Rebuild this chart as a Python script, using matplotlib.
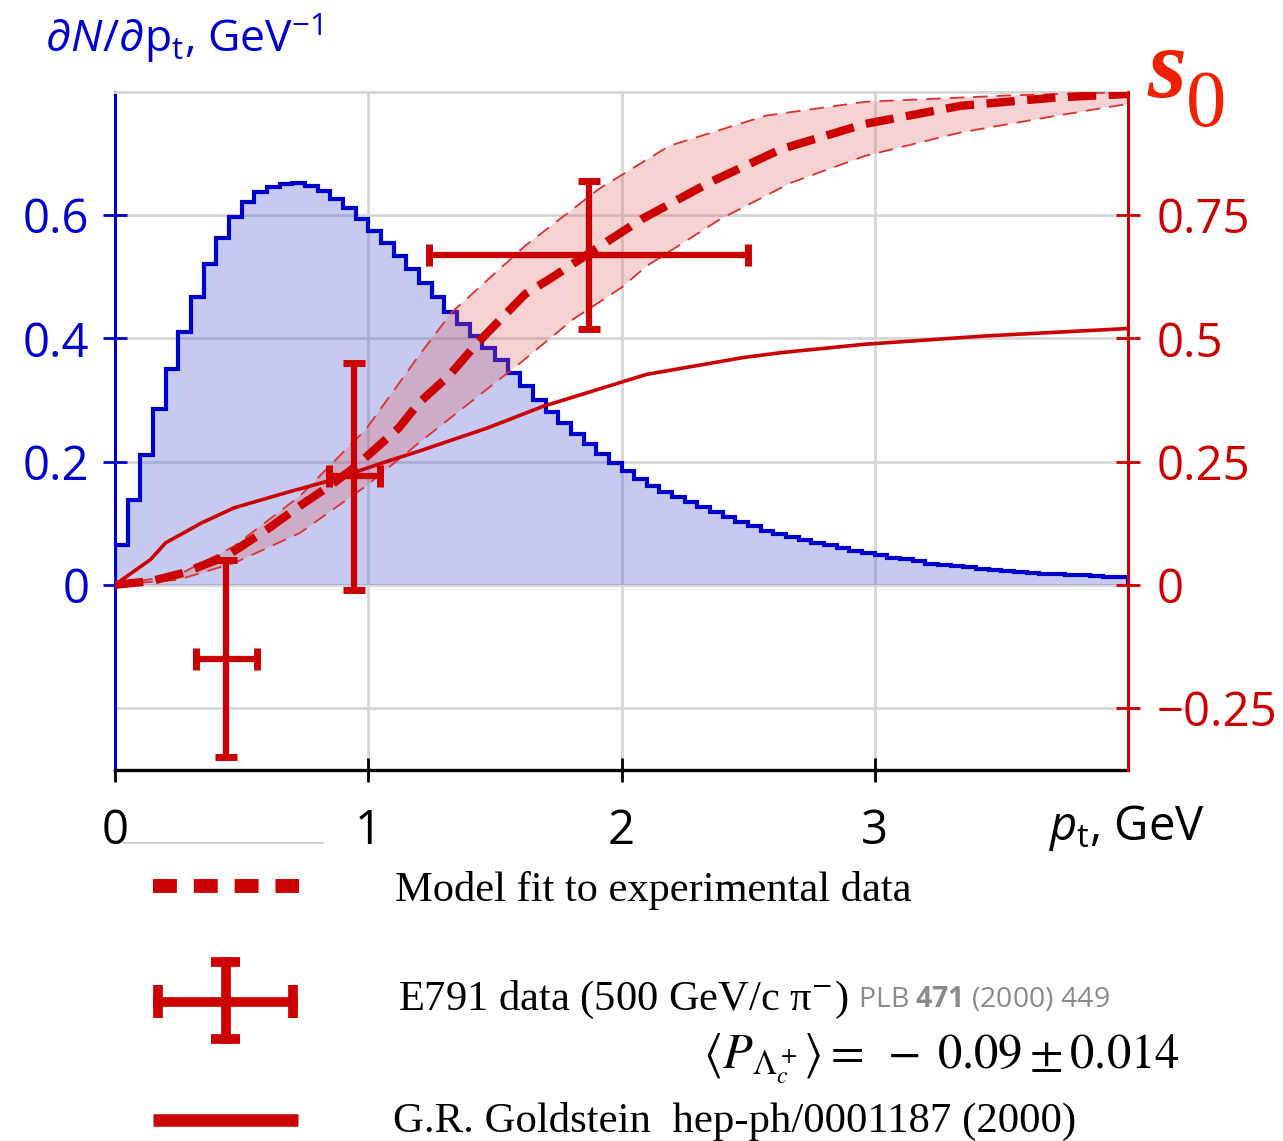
import numpy as np
import matplotlib
matplotlib.use("Agg")
import matplotlib.pyplot as plt

# ---------------- data ----------------
# pt distribution (left axis), 0.05 GeV bins from 0 to 4 GeV
hist_edges = np.linspace(0.0, 4.0, 81)
hist_values = [0.065, 0.138, 0.21, 0.285, 0.35, 0.41, 0.467, 0.52, 0.563, 0.597,
               0.622, 0.637, 0.646, 0.651, 0.653, 0.648, 0.64, 0.627, 0.611, 0.593,
               0.574, 0.555, 0.534, 0.513, 0.49, 0.467, 0.443, 0.423, 0.404, 0.385,
               0.365, 0.344, 0.323, 0.300, 0.280, 0.262, 0.244, 0.228, 0.212, 0.197,
               0.185, 0.172, 0.161, 0.151, 0.142, 0.134, 0.126, 0.118, 0.110, 0.102,
               0.095, 0.088, 0.082, 0.077, 0.072, 0.068, 0.064, 0.059, 0.055, 0.051,
               0.048, 0.044, 0.041, 0.038, 0.034, 0.032, 0.030, 0.028, 0.026, 0.024,
               0.022, 0.021, 0.019, 0.018, 0.017, 0.016, 0.015, 0.014, 0.013, 0.0125]

# model fit (right axis, s0)
fit_pt = [0, 0.14, 0.27, 0.44, 0.60, 0.73, 0.86, 0.95, 1.12, 1.20, 1.32, 1.43, 1.62,
          1.73, 1.87, 2.08, 2.35, 2.63, 2.96, 3.34, 3.72, 4.0]
fit_s0 = [0, 0.007, 0.024, 0.058, 0.112, 0.160, 0.205, 0.24, 0.318, 0.369, 0.425, 0.49,
          0.59, 0.625, 0.672, 0.742, 0.817, 0.884, 0.935, 0.972, 0.989, 0.996]

band_up_pt = [0, 0.25, 0.47, 0.73, 0.99, 1.20, 1.33, 1.62, 1.91, 2.19, 2.57, 2.96, 3.53, 4.0]
band_up_s0 = [0, 0.02, 0.078, 0.18, 0.315, 0.465, 0.553, 0.688, 0.803, 0.891, 0.952, 0.98, 0.993, 1.0]
band_lo_pt = [0, 0.25, 0.47, 0.73, 0.99, 1.20, 1.60, 1.81, 2.0, 2.10, 2.39, 2.67, 2.96, 3.34, 3.72, 4.0]
band_lo_s0 = [0, 0.01, 0.044, 0.105, 0.2, 0.288, 0.45, 0.539, 0.603, 0.647, 0.742, 0.816, 0.87, 0.918, 0.952, 0.976]

# G.R. Goldstein prediction
gold_pt = [0, 0.14, 0.20, 0.27, 0.34, 0.47, 0.67, 0.86, 1.06, 1.20, 1.47, 1.69, 2.10,
           2.48, 2.63, 2.96, 3.44, 4.0]
gold_s0 = [0, 0.051, 0.085, 0.105, 0.125, 0.156, 0.186, 0.213, 0.248, 0.271, 0.318,
           0.362, 0.427, 0.461, 0.471, 0.488, 0.505, 0.52]

# E791 data
e791_pt = [0.44, 0.945, 1.87]
e791_pt_err = [0.12, 0.10, 0.63]
e791_s0 = [-0.15, 0.22, 0.67]
e791_s0_err = [0.20, 0.23, 0.15]

left_ticks = [0, 0.2, 0.4, 0.6]
left_labels = ["0", "0.2", "0.4", "0.6"]
right_ticks = [-0.25, 0, 0.25, 0.5, 0.75]
right_labels = ["\u22120.25", "0", "0.25", "0.5", "0.75"]
x_ticks = [0, 1, 2, 3]
x_labels = ["0", "1", "2", "3"]

# ---------------- style ----------------
BLUE = "#0000cc"
RED = "#cc0000"
GRID = "#d6d6d6"

plt.rcParams["font.family"] = ["Open Sans", "DejaVu Sans"]
plt.rcParams["mathtext.fontset"] = "custom"
plt.rcParams["mathtext.rm"] = "Open Sans"
plt.rcParams["mathtext.it"] = "Open Sans:italic"
plt.rcParams["mathtext.bf"] = "Open Sans:bold"

W, H = 1283, 1141
fig = plt.figure(figsize=(W / 100, H / 100), dpi=100)
ax = fig.add_axes([115 / W, 1 - 769.5 / H, (1128 - 115) / W, (769.5 - 92) / H])

ax.set_xlim(0, 4)
ax.set_ylim(-0.3, 0.8)

# grid
ax.set_axisbelow(True)
ax.grid(True, color=GRID, lw=2)
ax.axhline(-0.2, color=GRID, lw=2, zorder=0.5)

# histogram
ax.stairs(hist_values, hist_edges, fill=True, color="#3344cc", alpha=0.28, lw=0, zorder=2)
ax.stairs(hist_values, hist_edges, baseline=0, color=BLUE, lw=3.0, zorder=3)

ax.set_xticks(x_ticks)
ax.set_xticklabels(x_labels)
ax.set_yticks(left_ticks)
ax.set_yticklabels(left_labels)
ax.tick_params(axis="y", direction="inout", length=17, width=2, colors=BLUE,
               labelsize=34, pad=10)
ax.tick_params(axis="x", direction="inout", length=17, width=2, colors="black",
               labelsize=34, pad=19)

ax.spines["left"].set_color(BLUE)
ax.spines["left"].set_linewidth(2.2)
ax.spines["bottom"].set_color("black")
ax.spines["bottom"].set_linewidth(2.4)
ax.spines["top"].set_color(GRID)
ax.spines["top"].set_linewidth(2)
ax.spines["right"].set_visible(False)

# right axis
ax2 = ax.twinx()
ax2.set_ylim(-0.375, 1.0)
for s in ("left", "top", "bottom"):
    ax2.spines[s].set_visible(False)
ax2.spines["right"].set_color(RED)
ax2.spines["right"].set_linewidth(2.2)
ax2.set_yticks(right_ticks)
ax2.set_yticklabels(right_labels)
ax2.tick_params(axis="y", direction="inout", length=17, width=2, colors=RED,
                labelsize=34, pad=12)

# band
band_x = np.concatenate([band_up_pt, band_lo_pt[::-1]])
band_y = np.concatenate([band_up_s0, band_lo_s0[::-1]])
ax2.fill(band_x, band_y, color="#e06060", alpha=0.28, lw=0, zorder=2)
ax2.plot(band_up_pt, band_up_s0, color="#dd3030", lw=1.3, dashes=(8, 5), zorder=3)
ax2.plot(band_lo_pt, band_lo_s0, color="#dd3030", lw=1.3, dashes=(8, 5), zorder=3)
ax2.plot(fit_pt, fit_s0, color=RED, lw=6, dashes=(3.4, 1.5), zorder=4)
ax2.plot(gold_pt, gold_s0, color=RED, lw=2.6, zorder=4)
ax2.errorbar(e791_pt, e791_s0, xerr=e791_pt_err, yerr=e791_s0_err, fmt="none",
             ecolor=RED, elinewidth=4.5, capsize=8, capthick=5, zorder=5)

# ---------------- overlay (texts & legend) ----------------
ov = fig.add_axes([0, 0, 1, 1], zorder=-1)
ov.set_xlim(0, W)
ov.set_ylim(H, 0)
ov.axis("off")
ov.patch.set_alpha(0)

ov.text(45, 53, r"$\partial N/\partial \mathrm{p}_{\mathrm{t}}$, GeV$^{-1}$", color=BLUE,
        fontsize=32, va="baseline", ha="left")
ov.text(1048, 840, r"$p_{\mathrm{t}}$, GeV", color="black", fontsize=34,
        va="baseline", ha="left")
ov.text(1148, 97, "s", color="#ee2200", fontsize=72, fontstyle="italic",
        fontweight="bold", family=["Liberation Serif", "DejaVu Serif"],
        va="baseline", ha="left")
ov.text(1186, 126, "0", color="#ee2200", fontsize=58,
        family=["Liberation Serif", "DejaVu Serif"], va="baseline", ha="left")

ov.plot([123, 323], [842.5, 842.5], color="#c8c8c8", lw=1.2)

serif = ["Liberation Serif", "DejaVu Serif"]
# legend handles
kw = dict(color=RED, solid_capstyle="butt")
ov.plot([153, 299], [886, 886], lw=10, dashes=(1.72, 1.22), dash_capstyle="butt", color=RED)
ov.plot([153, 298], [1001.5, 1001.5], lw=7, **kw)
ov.plot([225.5, 225.5], [957, 1044], lw=7, **kw)
ov.plot([158, 158], [985, 1018], lw=7, **kw)
ov.plot([293, 293], [985, 1018], lw=7, **kw)
ov.plot([211, 240], [962, 962], lw=7, **kw)
ov.plot([211, 240], [1039, 1039], lw=7, **kw)
ov.plot([153, 298], [1119.5, 1119.5], lw=9, **kw)

ov.text(395, 901, "Model fit to experimental data", family=serif, fontsize=30.6,
        va="baseline", ha="left", color="black")
ov.text(398, 1010, "E791 data (500 GeV/c \u03c0" + r"$^{-}$)",
        family=serif, fontsize=30.6, va="baseline", ha="left", color="black",
        math_fontfamily="stix")
ov.text(858, 1007, r"PLB $\mathbf{471}$ (2000) 449", fontsize=20.5, color="#8a8a8a",
        va="baseline", ha="left")
ov.text(1180, 1068, r"$\langle P_{\Lambda_c^+}\rangle = \;-\;0.09 \pm 0.014$",
        fontsize=35, math_fontfamily="stix", va="baseline", ha="right", color="black")
ov.text(393, 1132, "G.R. Goldstein  hep-ph/0001187 (2000)", family=serif, fontsize=30.8,
        va="baseline", ha="left", color="black")

fig.savefig("out.png", dpi=100)
